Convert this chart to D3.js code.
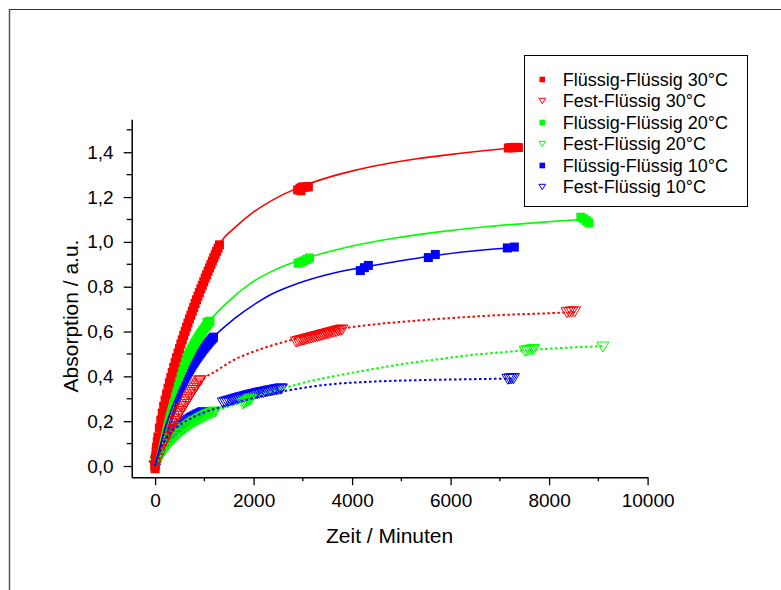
<!DOCTYPE html>
<html>
<head>
<meta charset="utf-8">
<script src="https://cdn.jsdelivr.net/npm/d3@7"></script>
<style>
  body { margin: 0; background: #fff; }
  text { font-family: "Liberation Sans", Arial, sans-serif; fill: #000; }
</style>
</head>
<body>
<svg id="chart" width="781" height="590"></svg>
<script>
// ---- measured data: [time in minutes, absorption] ----
const ffl30 = [[0,-0.012],[0,0.005],[5,0.026],[10,0.041],[19,0.064],[29,0.083],[44,0.108],[58,0.130],[87,0.170],[116,0.205],[145,0.236],[174,0.266],[203,0.294],[232,0.321],[261,0.347],[290,0.371],[319,0.395],[348,0.418],[378,0.440],[407,0.462],[436,0.483],[465,0.504],[494,0.524],[523,0.544],[552,0.563],[581,0.583],[610,0.601],[639,0.620],[668,0.638],[697,0.656],[726,0.673],[755,0.691],[784,0.708],[813,0.725],[842,0.742],[871,0.758],[900,0.774],[929,0.791],[958,0.806],[987,0.822],[1016,0.838],[1045,0.853],[1075,0.869],[1104,0.884],[1133,0.899],[1162,0.914],[1191,0.929],[1220,0.943],[1249,0.958],[1278,0.972],[1307,0.987],
  [2894,1.232],[2943,1.240],[2962,1.228],[2991,1.245],[3040,1.244],[3088,1.246],[3112,1.246],
  [7173,1.419],[7221,1.421],[7270,1.420],[7318,1.422],[7376,1.421]];

const fest30 = [[0,0.0],[29,0.024],[58,0.042],[87,0.058],[116,0.073],[145,0.087],[174,0.101],[203,0.114],[232,0.127],[261,0.140],[290,0.152],[319,0.164],[348,0.176],[378,0.188],[407,0.199],[436,0.210],[465,0.222],[494,0.233],[523,0.243],[552,0.254],[581,0.265],[610,0.275],[639,0.286],[668,0.296],[697,0.307],[726,0.317],[755,0.327],[784,0.337],[813,0.347],[842,0.357],[871,0.366],[900,0.376],[915,0.381],
  [2865,0.553],[2904,0.555],[2943,0.558],[2981,0.560],[3020,0.562],[3059,0.564],[3098,0.567],[3136,0.569],[3175,0.571],[3214,0.573],[3252,0.576],[3291,0.578],[3330,0.580],[3369,0.582],[3407,0.585],[3446,0.587],[3485,0.589],[3524,0.591],[3562,0.594],[3601,0.596],[3640,0.598],[3679,0.600],[3717,0.603],[3756,0.605],[3795,0.607],
  [8364,0.684],[8412,0.686],[8460,0.687],[8518,0.688]];

const ffl20 = [[0,0.0],[24,0.029],[48,0.057],[73,0.083],[97,0.108],[121,0.133],[145,0.156],[169,0.178],[194,0.199],[218,0.220],[242,0.239],[266,0.258],[290,0.276],[315,0.294],[339,0.311],[363,0.327],[387,0.343],[411,0.358],[436,0.373],[460,0.387],[484,0.400],[508,0.414],[532,0.427],[557,0.439],[581,0.451],[605,0.463],[629,0.474],[653,0.485],[678,0.496],[702,0.506],[726,0.516],[750,0.526],[774,0.536],[799,0.545],[823,0.554],[847,0.563],[871,0.571],[895,0.580],[920,0.588],[944,0.596],[968,0.604],[992,0.611],[1016,0.619],[1041,0.626],[1065,0.633],[1089,0.640],[1055,0.641],[1094,0.645],[1113,0.646],
  [2904,0.905],[2962,0.910],[3020,0.915],[3078,0.922],[3136,0.928],
  [8644,1.110],[8702,1.103],[8760,1.094],[8809,1.085]];

const fest20 = [[0,0.0],[29,0.013],[58,0.025],[87,0.036],[116,0.047],[145,0.057],[174,0.066],[203,0.075],[232,0.084],[261,0.092],[290,0.100],[319,0.108],[348,0.115],[378,0.122],[407,0.128],[436,0.135],[465,0.141],[494,0.146],[523,0.152],[552,0.157],[581,0.162],[610,0.167],[639,0.172],[668,0.177],[697,0.181],[726,0.186],[755,0.190],[784,0.194],[813,0.198],[842,0.201],[871,0.205],[900,0.209],[929,0.212],[958,0.215],[987,0.219],[1016,0.222],[1045,0.225],[1075,0.228],[1104,0.231],[1133,0.233],[1162,0.236],[1191,0.239],[1216,0.241],
  [1781,0.277],[1810,0.281],[1839,0.284],[1868,0.287],[1897,0.291],[1926,0.295],[1946,0.298],
  [7512,0.512],[7550,0.514],[7599,0.516],[7647,0.518],[7686,0.520],
  [9091,0.531]];

const ffl10 = [[0,0.0],[24,0.023],[48,0.046],[73,0.067],[97,0.088],[121,0.108],[145,0.127],[169,0.146],[194,0.163],[218,0.181],[242,0.197],[266,0.213],[290,0.229],[315,0.244],[339,0.258],[363,0.272],[387,0.286],[411,0.299],[436,0.311],[460,0.324],[484,0.336],[508,0.347],[532,0.359],[557,0.370],[581,0.380],[605,0.391],[629,0.401],[653,0.410],[678,0.420],[702,0.429],[726,0.438],[750,0.447],[774,0.456],[799,0.464],[823,0.472],[847,0.480],[871,0.488],[895,0.496],[920,0.503],[944,0.510],[968,0.518],[992,0.524],[1016,0.531],[1041,0.538],[1065,0.544],[1089,0.551],[1113,0.557],[1138,0.563],[1162,0.569],[1186,0.575],
  [4167,0.872],[4250,0.885],[4330,0.895],
  [5548,0.930],[5690,0.944],
  [7152,0.973],[7294,0.977]];

const fest10 = [[0,0.0],[29,0.017],[58,0.032],[87,0.047],[116,0.060],[145,0.072],[174,0.083],[203,0.094],[232,0.104],[261,0.113],[290,0.122],[319,0.130],[348,0.137],[378,0.145],[407,0.152],[436,0.158],[465,0.164],[494,0.170],[523,0.176],[552,0.181],[581,0.186],[610,0.191],[639,0.195],[668,0.200],[697,0.204],[726,0.208],[755,0.212],[784,0.216],[813,0.219],[842,0.223],[871,0.226],[900,0.229],[929,0.232],[958,0.235],[987,0.238],
  [1384,0.281],[1423,0.284],[1462,0.286],[1500,0.289],[1539,0.291],[1578,0.294],[1617,0.296],[1655,0.299],[1694,0.301],[1733,0.304],[1771,0.306],[1810,0.308],[1849,0.310],[1888,0.313],[1926,0.315],[1965,0.317],[2004,0.319],[2043,0.321],[2081,0.323],[2120,0.325],[2159,0.327],[2197,0.328],[2236,0.330],[2275,0.332],[2314,0.334],[2352,0.335],[2391,0.337],[2430,0.339],[2469,0.340],[2507,0.342],[2546,0.343],[2565,0.344],
  [7163,0.387],[7202,0.388],[7241,0.389],[7279,0.390]];

// ---- fitted curves ----
const fitFfl30 = [[0,0],[97,0.182],[242,0.33],[484,0.517],[726,0.673],[968,0.811],[1307,0.99],[1646,1.069],[1936,1.123],[2420,1.191],[2904,1.241],[3388,1.279],[3872,1.309],[4356,1.334],[4840,1.354],[5324,1.371],[5808,1.385],[6292,1.398],[6776,1.409],[7180,1.418]];
const fitFest30 = [[0,0],[145,0.087],[290,0.152],[484,0.23],[726,0.317],[932,0.378],[1267,0.428],[1598,0.473],[1936,0.505],[2283,0.532],[2756,0.562],[3340,0.593],[3907,0.617],[4453,0.632],[5050,0.644],[5808,0.657],[6411,0.666],[7260,0.676],[8035,0.682],[8518,0.687]];
const fitFfl20 = [[0,0],[242,0.239],[484,0.40],[726,0.516],[968,0.604],[1091,0.642],[1452,0.727],[1936,0.815],[2420,0.874],[2904,0.916],[3388,0.948],[3872,0.975],[4840,1.016],[5808,1.046],[6776,1.069],[7744,1.086],[8660,1.1]];
const fitFest20 = [[0,0],[145,0.057],[290,0.1],[484,0.14],[726,0.18],[968,0.215],[1210,0.243],[1452,0.262],[1694,0.28],[1936,0.3],[2420,0.335],[2688,0.352],[3222,0.383],[3568,0.398],[4356,0.43],[5058,0.456],[5808,0.478],[6411,0.495],[7066,0.508],[8035,0.524],[9091,0.535]];
const fitFfl10 = [[0,0],[242,0.197],[484,0.336],[726,0.438],[968,0.517],[1192,0.576],[1597,0.655],[2079,0.73],[2352,0.765],[2904,0.815],[3568,0.858],[4162,0.884],[4840,0.91],[5614,0.937],[6292,0.956],[7163,0.973]];
const fitFest10 = [[0,0],[97,0.07],[242,0.13],[484,0.18],[726,0.212],[968,0.237],[1258,0.258],[1549,0.277],[1936,0.3],[2420,0.325],[2904,0.345],[3582,0.365],[4356,0.376],[5324,0.383],[6292,0.387],[7212,0.39]];

// ---- labels ----
const seriesNames = ["Flüssig-Flüssig 30°C","Fest-Flüssig 30°C","Flüssig-Flüssig 20°C","Fest-Flüssig 20°C","Flüssig-Flüssig 10°C","Fest-Flüssig 10°C"];
const seriesColors = ["#ff0000","#ff0000","#00ff00","#00ff00","#0000ff","#0000ff"];
const xTickValues = [0,2000,4000,6000,8000,10000];
const xMinorTicks = [1000,3000,5000,7000,9000];
const yTickValues = [0,0.2,0.4,0.6,0.8,1.0,1.2,1.4];
const yMinorTicks = [0.1,0.3,0.5,0.7,0.9,1.1,1.3,1.5];
const xTitle = "Zeit / Minuten";
const yTitle = "Absorption / a.u.";

const series = [
  {name: seriesNames[0], color: seriesColors[0], shape: "square",   pts: ffl30,  fit: fitFfl30, dotted: false},
  {name: seriesNames[1], color: seriesColors[1], shape: "triangle", pts: fest30, fit: fitFest30, dotted: true},
  {name: seriesNames[2], color: seriesColors[2], shape: "square",   pts: ffl20,  fit: fitFfl20, dotted: false},
  {name: seriesNames[3], color: seriesColors[3], shape: "triangle", pts: fest20, fit: fitFest20, dotted: true},
  {name: seriesNames[4], color: seriesColors[4], shape: "square",   pts: ffl10,  fit: fitFfl10, dotted: false},
  {name: seriesNames[5], color: seriesColors[5], shape: "triangle", pts: fest10, fit: fitFest10, dotted: true}
];

const svg = d3.select("#chart");

// page frame
svg.append("line").attr("x1", 9).attr("y1", 9.5).attr("x2", 781).attr("y2", 9.5)
  .attr("stroke", "#333").attr("stroke-width", 1.2);
svg.append("line").attr("x1", 9.5).attr("y1", 9).attr("x2", 9.5).attr("y2", 590)
  .attr("stroke", "#555").attr("stroke-width", 1.5);

const x = d3.scaleLinear().domain([-475, 10000]).range([131.7, 647.6]);
const y = d3.scaleLinear().domain([-0.0499, 1.547]).range([477.2, 119.3]);

const plot = svg.append("g");

// markers: the 10 °C series lie underneath, the 30 °C series on top
function triPath(w, h) {
  return `M${-w/2},${-h/2}L${w/2},${-h/2}L0,${h/2}Z`;
}
series.slice().reverse().forEach(s => {
  const g = plot.append("g");
  if (s.shape === "square") {
    g.selectAll("rect").data(s.pts).join("rect")
      .attr("x", d => x(d[0]) - 4.5).attr("y", d => y(d[1]) - 4.5)
      .attr("width", 9).attr("height", 9)
      .attr("fill", s.color);
  } else {
    g.selectAll("path").data(s.pts).join("path")
      .attr("d", triPath(12, 10))
      .attr("transform", d => `translate(${x(d[0])},${y(d[1])})`)
      .attr("fill", "none").attr("stroke", s.color).attr("stroke-width", 1);
  }
});

// fitted curves
const line = d3.line().x(d => x(d[0])).y(d => y(d[1])).curve(d3.curveMonotoneX);
series.forEach(s => {
  plot.append("path").datum(s.fit).attr("d", line)
    .attr("fill", "none").attr("stroke", s.color)
    .attr("stroke-width", s.dotted ? 2 : 1.6)
    .attr("stroke-dasharray", s.dotted ? "2.5,2.5" : null);
});

// axes
const fmtY = d => d.toFixed(1).replace(".", ",");
const xAxis = svg.append("g").attr("transform", "translate(0,477.2)")
  .call(d3.axisBottom(x).tickValues(xTickValues).tickFormat(d3.format("d")).tickSize(8).tickSizeOuter(0).tickPadding(8.5));
const yAxis = svg.append("g").attr("transform", "translate(131.7,0)")
  .call(d3.axisLeft(y).tickValues(yTickValues).tickFormat(fmtY).tickSize(8).tickSizeOuter(0).tickPadding(10));
[xAxis, yAxis].forEach(a => {
  a.select(".domain").attr("stroke", "#000").attr("stroke-width", 1.5);
  a.selectAll(".tick line").attr("stroke", "#000").attr("stroke-width", 1.3);
  a.selectAll(".tick text").attr("font-size", 19).attr("font-family", "Liberation Sans, Arial, sans-serif");
});
xAxis.selectAll(".minor").data(xMinorTicks).join("line").attr("class", "minor")
  .attr("x1", d => x(d)).attr("x2", d => x(d)).attr("y1", 0).attr("y2", 4)
  .attr("stroke", "#000").attr("stroke-width", 1.3);
yAxis.selectAll(".minor").data(yMinorTicks).join("line").attr("class", "minor")
  .attr("y1", d => y(d)).attr("y2", d => y(d)).attr("x1", 0).attr("x2", -5)
  .attr("stroke", "#000").attr("stroke-width", 1.3);

// axis titles
svg.append("text").attr("x", 389.6).attr("y", 542.6).attr("text-anchor", "middle")
  .attr("font-size", 21).text(xTitle);
svg.append("text").attr("transform", "translate(78,316) rotate(-90)").attr("text-anchor", "middle")
  .attr("font-size", 21).text(yTitle);

// legend
const lg = svg.append("g");
lg.append("rect").attr("x", 524.5).attr("y", 55.5).attr("width", 223).attr("height", 151)
  .attr("fill", "#fff").attr("stroke", "#000").attr("stroke-width", 1);
series.forEach((s, i) => {
  const cy = 79.5 + i * 21.5;
  if (s.shape === "square") {
    lg.append("rect").attr("x", 542.3 - 2.8).attr("y", cy - 2.8).attr("width", 5.6).attr("height", 5.6).attr("fill", s.color);
  } else {
    lg.append("path").attr("d", triPath(6.7, 5.4)).attr("transform", `translate(542.3,${cy})`)
      .attr("fill", "none").attr("stroke", s.color).attr("stroke-width", 1);
  }
  lg.append("text").attr("x", 562.7).attr("y", cy + 6.4).attr("font-size", 18).text(s.name);
});
</script>
</body>
</html>
